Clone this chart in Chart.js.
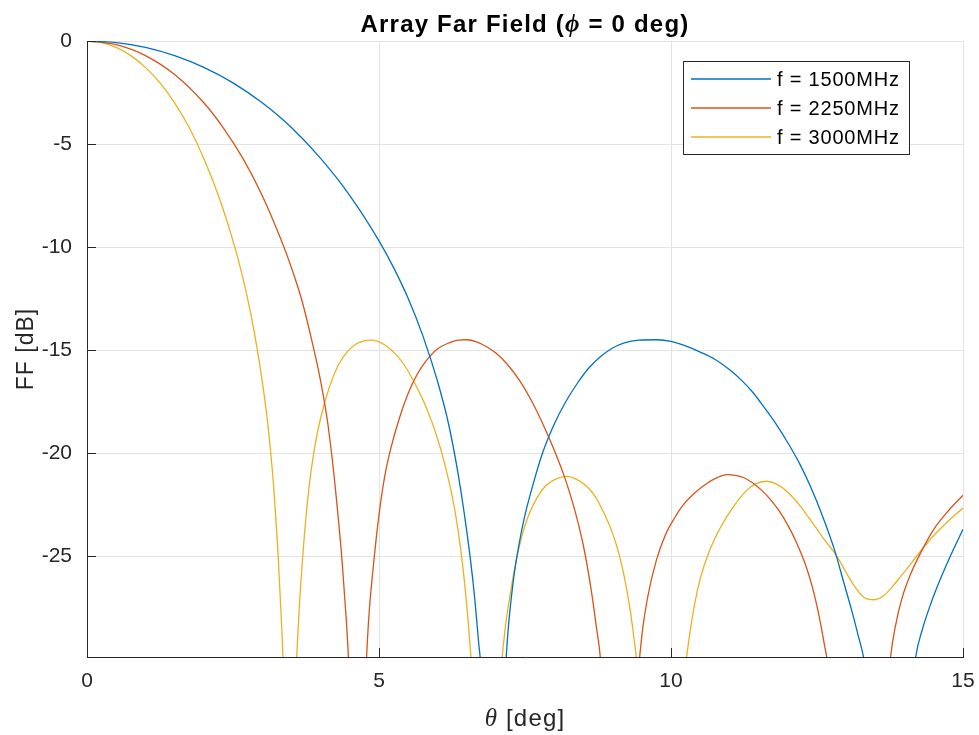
<!DOCTYPE html>
<html>
<head>
<meta charset="utf-8">
<title>Array Far Field</title>
<script src="https://cdn.jsdelivr.net/npm/chart.js@4.4.1/dist/chart.umd.min.js"></script>
<style>
  html, body { margin: 0; padding: 0; background: #fff; }
  #wrap { position: relative; width: 979px; height: 735px; }
</style>
</head>
<body>
<div id="wrap"><canvas id="ffChart"></canvas></div>
<script>
// far-field cuts at phi = 0, theta in deg, FF in dB (null points sit below the floor)
const th1500 = [0, 0.5, 1, 1.5, 2, 2.5, 3, 3.5, 4, 4.5, 5, 5.25, 5.5, 5.75, 6, 6.2, 6.4, 6.6, 6.7, 6.78, 6.95,
  7.14, 7.2, 7.3, 7.4, 7.5, 7.65, 7.8, 8, 8.2, 8.4, 8.6, 8.8, 9, 9.2, 9.45, 9.76, 10, 10.25, 10.5, 10.75, 11,
  11.2, 11.4, 11.6, 11.8, 12, 12.2, 12.4, 12.6, 12.8, 12.95, 13.1, 13.2, 13.3, 13.38, 13.74,
  14.14, 14.19, 14.3, 14.45, 14.6, 14.8, 15];
const ff1500 = [0, -0.08, -0.31, -0.71, -1.28, -2.03, -3.0, -4.2, -5.7, -7.5, -9.7, -11.0, -12.5, -14.3, -16.5,
  -18.7, -21.8, -26.0, -29.0, -32.0, -50,
  -32.0, -29.0, -26.2, -24.4, -23.0, -21.4, -20.0, -18.6, -17.5, -16.6, -15.85, -15.3, -14.9, -14.65, -14.52,
  -14.5, -14.58, -14.8, -15.1, -15.45, -15.95, -16.45, -17.05, -17.8, -18.6, -19.5, -20.5, -21.7, -23.1, -24.7,
  -26.2, -27.7, -28.8, -29.95, -31.5, -50,
  -31.2, -29.9, -28.6, -27.3, -26.2, -24.9, -23.7];

const th2250 = [0, 0.5, 1, 1.5, 2, 2.33, 2.67, 3, 3.33, 3.5, 3.67, 3.83, 4, 4.13, 4.27, 4.4, 4.51, 4.63,
  4.76, 4.82, 4.91, 5, 5.1, 5.2, 5.35, 5.5, 5.65, 5.8, 6, 6.2, 6.35, 6.5, 6.67, 6.85, 7, 7.2, 7.4, 7.6, 7.8,
  8, 8.2, 8.35, 8.5, 8.62, 8.72, 8.8, 9.13,
  9.42, 9.5, 9.6, 9.75, 9.9, 10.05, 10.2, 10.4, 10.6, 10.8, 10.96, 11.1, 11.25, 11.4, 11.55, 11.7, 11.85,
  12, 12.15, 12.3, 12.42, 12.52, 12.62, 12.7, 13.2,
  13.7, 13.76, 13.85, 13.95, 14.1, 14.3, 14.5, 14.75, 15];
const ff2250 = [0, -0.18, -0.71, -1.63, -3.0, -4.2, -5.7, -7.5, -9.7, -11.0, -12.5, -14.3, -16.5, -18.7, -22.2,
  -26.5, -32.5, -50,
  -32.0, -28.2, -25.3, -23.0, -21.1, -19.8, -18.3, -17.1, -16.2, -15.55, -14.95, -14.65, -14.52, -14.5, -14.6,
  -14.85, -15.15, -15.7, -16.45, -17.4, -18.55, -19.85, -21.35, -22.75, -24.5, -26.4, -28.4, -30.3, -50,
  -31.5, -28.9, -27.0, -25.2, -24.0, -23.2, -22.55, -21.95, -21.5, -21.18, -21.05, -21.08, -21.2, -21.45, -21.8,
  -22.25, -22.8, -23.5, -24.35, -25.4, -26.5, -27.7, -29.2, -30.6, -50,
  -32.0, -29.9, -28.3, -27.1, -25.9, -24.7, -23.7, -22.8, -22.05];

const th3000 = [0, 0.25, 0.5, 0.75, 1, 1.25, 1.5, 1.75, 2, 2.25, 2.5, 2.625, 2.75, 2.875, 3, 3.1, 3.2, 3.3,
  3.38, 3.47, 3.55, 3.62, 3.7, 3.8, 3.9, 4, 4.15, 4.3, 4.45, 4.6, 4.75, 4.87, 5, 5.15, 5.3, 5.45, 5.6, 5.75,
  5.9, 6.05, 6.2, 6.3, 6.4, 6.48, 6.55, 6.6, 6.84,
  7.05, 7.1, 7.17, 7.25, 7.35, 7.45, 7.55, 7.7, 7.85, 8, 8.22, 8.4, 8.55, 8.7, 8.85, 9, 9.1, 9.2, 9.3, 9.38,
  9.45, 9.84,
  10.22, 10.3, 10.4, 10.5, 10.65, 10.85, 11.07, 11.3, 11.45, 11.63, 11.8, 12, 12.22, 12.4, 12.6, 12.85, 13,
  13.15, 13.3, 13.48, 13.65, 13.8, 13.93, 14.1, 14.33, 14.5, 14.75, 15];
const ff3000 = [0, -0.08, -0.31, -0.71, -1.28, -2.03, -3.0, -4.2, -5.7, -7.5, -9.7, -11.0, -12.5, -14.3, -16.5,
  -18.7, -21.8, -26.5, -32.5, -50, -33.5, -28.3, -24.8, -21.7, -19.7, -18.3, -16.8, -15.75, -15.1, -14.72,
  -14.55, -14.52, -14.6, -14.85, -15.25, -15.8, -16.55, -17.4, -18.45, -19.75, -21.4, -22.8, -24.7, -26.7,
  -29.0, -31.2, -50,
  -32.0, -30.2, -28.3, -26.8, -25.2, -24.0, -23.1, -22.2, -21.6, -21.3, -21.13, -21.3, -21.6, -22.1, -22.9,
  -23.9, -24.8, -26.0, -27.6, -29.3, -31.2, -50,
  -31.2, -29.2, -27.4, -26.1, -24.8, -23.6, -22.6, -21.8, -21.5, -21.37, -21.5, -21.9, -22.6, -23.3, -24.1,
  -25.05, -25.8, -26.5, -27.0, -27.12, -26.9, -26.45, -26.0, -25.4, -24.56, -24.0, -23.3, -22.67];

const seriesLabels = ['f = 1500MHz', 'f = 2250MHz', 'f = 3000MHz'];
const xTicks = [0, 5, 10, 15];
const yTicks = [0, -5, -10, -15, -20, -25];

const FONT = '"Liberation Sans", Arial, Helvetica, sans-serif';
const SERIF = '"Liberation Serif", "DejaVu Serif", serif';
const INK = '#262626';
const GRID = '#e3e3e3';
const colors = ['#0072bd', '#d95319', '#edb120'];

const toPoints = (th, ff) => th.map((t, i) => ({ x: t, y: ff[i] }));

// draws a line of text made of differently styled pieces, centred on cx
function drawRuns(ctx, runs, cx, baseline, spacing) {
    ctx.letterSpacing = spacing + 'px';
    let w = 0;
    runs.forEach(r => { ctx.font = r.font; w += ctx.measureText(r.text).width; });
    let px = cx - w / 2;
    ctx.textAlign = 'left';
    ctx.textBaseline = 'alphabetic';
    runs.forEach(r => {
        ctx.font = r.font;
        ctx.fillStyle = r.color || '#000';
        ctx.fillText(r.text, px, baseline);
        px += ctx.measureText(r.text).width;
    });
    ctx.letterSpacing = '0px';
}

const decorations = {
    id: 'decorations',
    afterDatasetsDraw(chart) {
        const { ctx, chartArea: a, scales: { x, y } } = chart;
        ctx.save();

        // ticks point inward, left and bottom axes only
        ctx.strokeStyle = INK;
        ctx.lineWidth = 1;
        ctx.beginPath();
        yTicks.forEach(v => {
            const py = Math.round(y.getPixelForValue(v)) + 0.5;
            ctx.moveTo(a.left, py); ctx.lineTo(a.left + 9, py);
        });
        xTicks.forEach(v => {
            const px = Math.round(x.getPixelForValue(v)) + 0.5;
            ctx.moveTo(px, a.bottom); ctx.lineTo(px, a.bottom - 9);
        });
        ctx.stroke();

        // legend, top right inside the axes
        const lg = { x: 683, y: 61, w: 226, h: 93 };
        ctx.fillStyle = '#fff';
        ctx.fillRect(lg.x, lg.y, lg.w, lg.h);
        ctx.strokeStyle = INK;
        ctx.strokeRect(lg.x + 0.5, lg.y + 0.5, lg.w, lg.h);
        ctx.font = '20px ' + FONT;
        ctx.letterSpacing = '0.8px';
        ctx.textAlign = 'left';
        ctx.textBaseline = 'middle';
        chart.data.datasets.forEach((ds, i) => {
            const ry = lg.y + 18 + i * 29;
            ctx.strokeStyle = ds.borderColor;
            ctx.lineWidth = 1.3;
            ctx.beginPath();
            ctx.moveTo(lg.x + 8, ry); ctx.lineTo(lg.x + 88, ry);
            ctx.stroke();
            ctx.fillStyle = '#000';
            ctx.fillText(ds.label, lg.x + 94, ry + 1);
        });
        ctx.restore();
    },
    afterDraw(chart) {
        const { ctx, chartArea: a } = chart;
        const cx = (a.left + a.right) / 2;
        const cy = (a.top + a.bottom) / 2;
        ctx.save();
        drawRuns(ctx, [
            { text: 'Array Far Field (', font: 'bold 24px ' + FONT },
            { text: '\u03d5', font: 'italic bold 25px ' + SERIF },
            { text: ' = 0 deg)', font: 'bold 24px ' + FONT }
        ], cx, 32, 1.2);
        drawRuns(ctx, [
            { text: '\u03b8', font: 'italic 25px ' + SERIF, color: INK },
            { text: ' [deg]', font: '24px ' + FONT, color: INK }
        ], cx, 726, 1.2);
        // y axis title, rotated
        ctx.translate(33, cy);
        ctx.rotate(-Math.PI / 2);
        drawRuns(ctx, [{ text: 'FF [dB]', font: '23px ' + FONT, color: INK }], 0, 0, 1);
        ctx.restore();
    }
};

const ctx = document.getElementById('ffChart').getContext('2d');
new Chart(ctx, {
    type: 'line',
    data: {
        datasets: [
            { label: seriesLabels[0], data: toPoints(th1500, ff1500), borderColor: colors[0] },
            { label: seriesLabels[1], data: toPoints(th2250, ff2250), borderColor: colors[1] },
            { label: seriesLabels[2], data: toPoints(th3000, ff3000), borderColor: colors[2] }
        ]
    },
    options: {
        responsive: true,
        maintainAspectRatio: false,
        animation: false,
        layout: { padding: { top: 41, right: 16, left: 0, bottom: 0 } },
        elements: {
            point: { radius: 0 },
            line: { borderWidth: 1.3, cubicInterpolationMode: 'monotone', fill: false }
        },
        plugins: {
            legend: { display: false },
            tooltip: { enabled: false },
            title: { display: false }
        },
        scales: {
            x: {
                type: 'linear', min: 0, max: 15,
                afterBuildTicks: s => { s.ticks = xTicks.map(v => ({ value: v })); },
                afterFit: s => { s.height = 78; s.paddingLeft = 0; s.paddingRight = 0; },
                grid: { color: GRID, drawTicks: false },
                border: { display: true, color: INK, width: 1 },
                ticks: { color: INK, padding: 12, font: { family: FONT, size: 21 }, callback: v => String(v) }
            },
            y: {
                type: 'linear', min: -29.9, max: 0,
                afterBuildTicks: s => { s.ticks = yTicks.map(v => ({ value: v })); },
                afterFit: s => { s.width = 87; s.paddingTop = 0; s.paddingBottom = 0; },
                grid: { color: GRID, drawTicks: false },
                border: { display: true, color: INK, width: 1 },
                ticks: { color: INK, padding: 15, font: { family: FONT, size: 21 }, callback: v => String(v) }
            }
        }
    },
    plugins: [decorations]
});
</script>
</body>
</html>
